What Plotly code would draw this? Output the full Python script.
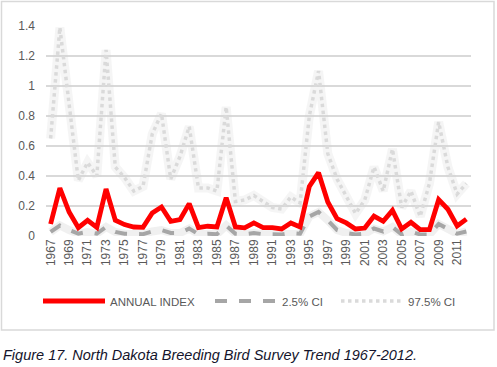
import plotly.graph_objects as go

years = list(range(1967, 2013))

annual_index = [0.08, 0.32, 0.16, 0.056, 0.105, 0.058, 0.313, 0.105, 0.076, 0.06,
                0.058, 0.153, 0.193, 0.098, 0.109, 0.216, 0.056, 0.065, 0.06, 0.256,
                0.06, 0.054, 0.087, 0.056, 0.056, 0.047, 0.087, 0.06, 0.331, 0.422,
                0.227, 0.116, 0.087, 0.047, 0.053, 0.133, 0.098, 0.171, 0.047, 0.091,
                0.042, 0.042, 0.242, 0.178, 0.067, 0.113]

ci_low = [0.027, 0.07, 0.04, 0.016, 0.027, 0.016, 0.06, 0.027, 0.015, 0.012,
          0.012, 0.03, 0.04, 0.02, 0.02, 0.05, 0.012, 0.015, 0.012, 0.07,
          0.015, 0.012, 0.02, 0.012, 0.012, 0.01, 0.02, 0.015, 0.13, 0.16,
          0.105, 0.04, 0.02, 0.01, 0.015, 0.05, 0.03, 0.06, 0.01, 0.03,
          0.01, 0.01, 0.08, 0.05, 0.015, 0.03]

ci_high = [0.65, 1.39, 0.88, 0.37, 0.49, 0.40, 1.24, 0.46, 0.39, 0.30,
           0.33, 0.68, 0.816, 0.38, 0.53, 0.73, 0.32, 0.32, 0.30, 0.86,
           0.23, 0.24, 0.27, 0.23, 0.19, 0.18, 0.26, 0.22, 0.80, 1.10,
           0.55, 0.38, 0.26, 0.15, 0.24, 0.46, 0.30, 0.58, 0.19, 0.30,
           0.13, 0.35, 0.76, 0.46, 0.28, 0.35]

tick_years = list(range(1967, 2012, 2))
y_ticks = [0, 0.2, 0.4, 0.6, 0.8, 1.0, 1.2, 1.4]
y_tick_text = ["0", "0.2", "0.4", "0.6", "0.8", "1", "1.2", "1.4"]

W, H = 497, 367
L, R, T, B = 46, 26, 26, 131
PW, PH = W - L - R, H - T - B


def px(xp):
    return (xp - L) / PW


def py(yp):
    return (H - B - yp) / PH


FONT = "Liberation Sans"

fig = go.Figure()

# soft glow underlays
fig.add_trace(go.Scatter(x=years, y=ci_high, mode="lines", showlegend=False, hoverinfo="skip",
                         line=dict(color="rgba(210,210,210,0.22)", width=9)))
fig.add_trace(go.Scatter(x=years, y=ci_low, mode="lines", showlegend=False, hoverinfo="skip",
                         line=dict(color="rgba(170,170,170,0.18)", width=8)))

fig.add_trace(go.Scatter(x=years, y=ci_high, mode="lines", name="97.5% CI", legend="legend3",
                         line=dict(color="#dadada", width=3.5, dash="dot")))
fig.add_trace(go.Scatter(x=years, y=ci_low, mode="lines", name="2.5% CI", legend="legend2",
                         line=dict(color="#a6a6a6", width=4, dash="dash")))
fig.add_trace(go.Scatter(x=years, y=annual_index, mode="lines", name="ANNUAL INDEX", legend="legend",
                         line=dict(color="#ff0000", width=4.8)))

legend_common = dict(orientation="h", yanchor="middle", xanchor="left", itemwidth=62,
                     font=dict(family=FONT, size=11.5, color="#595959"),
                     bgcolor="rgba(0,0,0,0)", borderwidth=0, tracegroupgap=0)
fig.update_layout(
    legend=dict(x=px(38), y=py(301), **legend_common),
    legend2=dict(x=px(210), y=py(301), **legend_common),
    legend3=dict(x=px(336), y=py(301), **legend_common),
)

fig.update_xaxes(range=[1966.5, 2012.5], tickmode="array", tickvals=tick_years,
                 ticktext=[str(y) for y in tick_years], tickangle=-90, showgrid=False,
                 zeroline=False, showline=False, ticks="",
                 tickfont=dict(family=FONT, size=12, color="#595959"))
fig.update_yaxes(range=[0, 1.4], tickmode="array", tickvals=y_ticks, ticktext=y_tick_text,
                 showgrid=True, gridcolor="#d9d9d9", gridwidth=1.5, zeroline=False,
                 showline=False, ticks="", ticklabelstandoff=10,
                 tickfont=dict(family=FONT, size=12, color="#595959"))

# chart border
fig.add_shape(type="rect", xref="paper", yref="paper",
              x0=px(1.5), x1=px(494), y0=py(330), y1=py(1.5),
              line=dict(color="#d9d9d9", width=1.5), fillcolor="rgba(0,0,0,0)", layer="below")

fig.add_annotation(xref="paper", yref="paper", x=px(1), y=py(355), xanchor="left", yanchor="middle",
                   text="<i>Figure 17. North Dakota Breeding Bird Survey Trend 1967-2012.</i>",
                   showarrow=False, font=dict(family=FONT, size=14.5, color="#14142b"))

fig.update_layout(width=W, height=H, margin=dict(l=L, r=R, t=T, b=B, autoexpand=False),
                  paper_bgcolor="white", plot_bgcolor="white")

fig.write_html("out.html", config={"displayModeBar": False},
               post_script="document.body.style.margin='0';document.body.style.overflow='hidden';")
